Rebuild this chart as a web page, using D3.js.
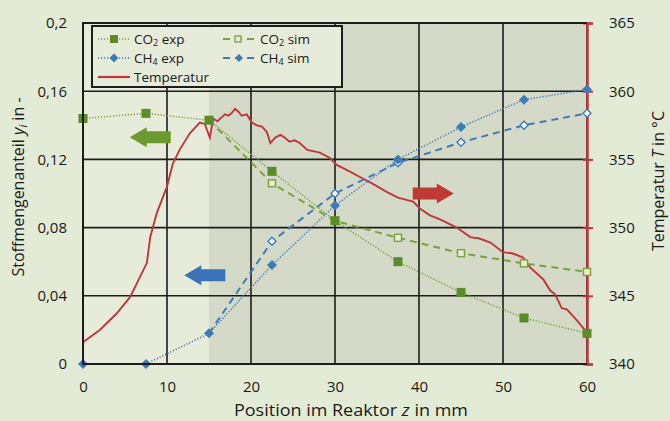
<!DOCTYPE html>
<html lang="de">
<head>
<meta charset="UTF-8"/>
<title>Stoffmengenanteil und Temperatur im Reaktor</title>
<script src="https://d3js.org/d3.v7.min.js"></script>
<style>
	body { margin: 0; background: #e3ead5; }
	svg text { font-family: "Open Sans", Lato, sans-serif; fill: #1a1a1a; }
</style>
</head>
<body>
<script>

var w = 670;
var h = 421;
var margin = {left: 83, right: 83, top: 23, bottom: 57};

// positions along the reactor (mm)
var zPos = [0, 7.5, 15, 22.5, 30, 37.5, 45, 52.5, 60];
var co2Exp = [0.144, 0.147, 0.143, 0.113, 0.084, 0.060, 0.042, 0.027, 0.018];
var ch4Exp = [0, 0, 0.018, 0.058, 0.093, 0.120, 0.139, 0.155, 0.161];

var zSim = [15, 22.5, 30, 37.5, 45, 52.5, 60];
var co2Sim = [0.143, 0.106, 0.084, 0.074, 0.065, 0.059, 0.054];
var ch4Sim = [0.018, 0.072, 0.100, 0.118, 0.130, 0.140, 0.147];

// temperature profile
var tZ = [0, 2.0, 4.0, 5.6, 6.8, 7.6, 8.0, 8.8, 10.0, 10.7, 11.5, 12.7, 13.9, 14.5, 15.1, 15.5, 16.0,
	16.9, 17.3, 17.7, 18.1, 18.5, 18.9, 19.5, 20.1, 20.7, 21.3, 21.9, 22.3, 22.9, 23.5, 24.0, 24.6,
	25.2, 25.8, 26.7, 28.2, 29.4, 30.2, 31.5, 33.3, 34.5, 36.2, 37.5, 39.3, 40.1, 41.3, 42.5, 44.5,
	46.1, 47.2, 48.5, 50.0, 51.2, 52.4, 53.2, 54.8, 55.6, 56.2, 57.0, 57.6, 58.8, 60];
var tVal = [341.6, 342.5, 343.7, 344.9, 346.4, 347.4, 349.3, 351.1, 353.0, 354.7, 355.7, 356.9, 357.7, 357.6, 356.6, 358.0, 357.8,
	358.3, 358.2, 358.4, 358.7, 358.5, 358.2, 358.3, 357.7, 357.5, 357.4, 357.0, 356.2, 356.6, 356.8, 356.6, 356.3,
	356.4, 356.2, 355.7, 355.5, 355.1, 354.6, 354.2, 353.6, 353.2, 352.6, 352.2, 351.9, 351.4, 350.9, 350.6, 350.0,
	349.3, 349.2, 348.9, 348.2, 348.1, 347.8, 347.1, 346.2, 345.4, 345.1, 344.1, 344.0, 343.2, 342.3];

var xTicks = [0, 10, 20, 30, 40, 50, 60];
var yTicks = [0, 0.04, 0.08, 0.12, 0.16, 0.2];
var tTicks = [340, 345, 350, 355, 360, 365];

var green = "#5b8c2a";
var greenLine = "#7aa23c";
var blue = "#3d7bbb";
var red = "#c0363a";
var bg = "#e6ecd9";

var xScale = d3.scaleLinear().domain([0, 60]).range([margin.left, w - margin.right]);
var yScale = d3.scaleLinear().domain([0, 0.2]).range([h - margin.bottom, margin.top]);
var tScale = d3.scaleLinear().domain([340, 365]).range([h - margin.bottom, margin.top]);

var svg = d3.select("body").append("svg")
	.attr("width", w)
	.attr("height", h);

svg.append("rect").attr("width", w).attr("height", h).attr("fill", "#e3ead5");

// plot background, shaded zone from 15 mm
svg.append("rect")
	.attr("x", xScale(0)).attr("y", yScale(0.2))
	.attr("width", xScale(15) - xScale(0)).attr("height", yScale(0) - yScale(0.2))
	.attr("fill", bg);
svg.append("rect")
	.attr("x", xScale(15)).attr("y", yScale(0.2))
	.attr("width", xScale(60) - xScale(15)).attr("height", yScale(0) - yScale(0.2))
	.attr("fill", "#d4dac7");

// grid
svg.append("g").selectAll("line").data(xTicks).enter().append("line")
	.attr("x1", d => xScale(d)).attr("x2", d => xScale(d))
	.attr("y1", yScale(0)).attr("y2", yScale(0.2))
	.attr("stroke", "#1c1c1c").attr("stroke-width", 1.6);
svg.append("g").selectAll("line").data(yTicks).enter().append("line")
	.attr("x1", xScale(0)).attr("x2", xScale(60))
	.attr("y1", d => yScale(d)).attr("y2", d => yScale(d))
	.attr("stroke", "#1c1c1c").attr("stroke-width", 1.6);

// axes
var xAxis = d3.axisBottom(xScale).tickValues(xTicks).tickSize(0).tickPadding(17);
var gx = svg.append("g").attr("transform", "translate(0," + yScale(0) + ")").call(xAxis);
gx.select(".domain").remove();

var yAxis = d3.axisLeft(yScale).tickValues(yTicks).tickSize(0).tickPadding(16)
	.tickFormat(d => String(d).replace(".", ","));
var gy = svg.append("g").attr("transform", "translate(" + xScale(0) + ",0)").call(yAxis);
gy.select(".domain").remove();

var tAxis = d3.axisRight(tScale).tickValues(tTicks).tickSize(6).tickPadding(16);
var gt = svg.append("g").attr("transform", "translate(" + xScale(60) + ",0)").call(tAxis);
gt.select(".domain").attr("stroke", red).attr("stroke-width", 2.5);
gt.selectAll(".tick line").attr("stroke", red).attr("stroke-width", 2).attr("x1", -4);

svg.selectAll(".tick text").style("font-size", "15px").attr("fill", "#1a1a1a");

// series
var lineGen = d3.line().x(d => xScale(d[0])).y(d => yScale(d[1]));

function pairs(xs, ys) { return xs.map((x, i) => [x, ys[i]]); }

svg.append("path").datum(pairs(tZ, tVal))
	.attr("d", d3.line().x(d => xScale(d[0])).y(d => tScale(d[1])))
	.attr("fill", "none").attr("stroke", red).attr("stroke-width", 1.9);

svg.append("path").datum(pairs(zSim, co2Sim)).attr("d", lineGen)
	.attr("fill", "none").attr("stroke", greenLine).attr("stroke-width", 2).attr("stroke-dasharray", "7,5");
svg.append("path").datum(pairs(zSim, ch4Sim)).attr("d", lineGen)
	.attr("fill", "none").attr("stroke", blue).attr("stroke-width", 2).attr("stroke-dasharray", "7,5");
svg.append("path").datum(pairs(zPos, co2Exp)).attr("d", lineGen)
	.attr("fill", "none").attr("stroke", greenLine).attr("stroke-width", 1.6).attr("stroke-dasharray", "1.2,1.8");
svg.append("path").datum(pairs(zPos, ch4Exp)).attr("d", lineGen)
	.attr("fill", "none").attr("stroke", blue).attr("stroke-width", 1.6).attr("stroke-dasharray", "1.2,1.8");

// square diamond marker
function diamondPath(r) {
	return "M0," + (-r) + "L" + r + ",0L0," + r + "L" + (-r) + ",0Z";
}

svg.append("g").selectAll("rect").data(pairs(zSim, co2Sim).slice(1)).enter().append("rect")
	.attr("x", d => xScale(d[0]) - 3.5).attr("y", d => yScale(d[1]) - 3.5)
	.attr("width", 7).attr("height", 7)
	.attr("fill", bg).attr("stroke", greenLine).attr("stroke-width", 1.4);
svg.append("g").selectAll("path").data(pairs(zSim, ch4Sim).slice(1)).enter().append("path")
	.attr("d", diamondPath(4))
	.attr("transform", d => "translate(" + xScale(d[0]) + "," + yScale(d[1]) + ")")
	.attr("fill", "#ffffff").attr("stroke", blue).attr("stroke-width", 1.4);
svg.append("g").selectAll("rect").data(pairs(zPos, co2Exp)).enter().append("rect")
	.attr("x", d => xScale(d[0]) - 4.5).attr("y", d => yScale(d[1]) - 4.5)
	.attr("width", 9).attr("height", 9).attr("fill", green);
svg.append("g").selectAll("path").data(pairs(zPos, ch4Exp)).enter().append("path")
	.attr("d", diamondPath(5))
	.attr("transform", d => "translate(" + xScale(d[0]) + "," + yScale(d[1]) + ")")
	.attr("fill", blue);

// plot frame (top/left/bottom black)
svg.append("path")
	.attr("d", "M" + xScale(60) + "," + yScale(0.2) + "H" + xScale(0) + "V" + yScale(0) + "H" + xScale(60))
	.attr("fill", "none").attr("stroke", "#1c1c1c").attr("stroke-width", 2);

// arrows showing which axis applies
function arrow(cx, cy, dir, color) {
	var len = 41, head = 17, bh = 6, hh = 10;
	var pts = [[-len / 2, 0], [-len / 2 + head, -hh], [-len / 2 + head, -bh], [len / 2, -bh],
		[len / 2, bh], [-len / 2 + head, bh], [-len / 2 + head, hh]];
	svg.append("polygon")
		.attr("points", pts.map(p => p.join(",")).join(" "))
		.attr("transform", "translate(" + cx + "," + cy + ") scale(" + dir + ",1)")
		.attr("fill", color);
}
arrow(xScale(8.0), yScale(0.133), 1, "#6a9a30");
arrow(xScale(14.5), yScale(0.052), 1, "#3a72b8");
arrow(xScale(41.7), yScale(0.100), -1, "#bd3a35");

// legend
var lg = svg.append("g").attr("transform", "translate(92,26)");
lg.append("rect").attr("width", 250).attr("height", 61)
	.attr("fill", bg).attr("stroke", "#1c1c1c").attr("stroke-width", 2);

function legendLine(x, y, color, dash, width) {
	lg.append("line").attr("x1", x).attr("x2", x + 32).attr("y1", y).attr("y2", y)
		.attr("stroke", color).attr("stroke-width", width).attr("stroke-dasharray", dash);
}
legendLine(6, 13, greenLine, "1.2,1.8", 1.6);
lg.append("rect").attr("x", 18).attr("y", 9).attr("width", 8).attr("height", 8).attr("fill", green);
legendLine(6, 32, blue, "1.2,1.8", 1.6);
lg.append("path").attr("d", diamondPath(4.5)).attr("transform", "translate(22,32)").attr("fill", blue);
legendLine(6, 51, red, null, 2.2);

legendLine(131, 13, greenLine, "7,5", 2);
lg.append("rect").attr("x", 143).attr("y", 10).attr("width", 6).attr("height", 6)
	.attr("fill", bg).attr("stroke", greenLine).attr("stroke-width", 1.3);
legendLine(131, 32, blue, "7,5", 2);
lg.append("path").attr("d", diamondPath(4))
	.attr("transform", "translate(147,32)").attr("fill", blue);

function legendText(x, y, base, sub, rest) {
	var t = lg.append("text").attr("x", x).attr("y", y).style("font-size", "13.5px");
	t.append("tspan").text(base);
	if (sub) {
		t.append("tspan").attr("dy", 2).style("font-size", "9px").text(sub);
		t.append("tspan").attr("dy", -2).text(rest);
	}
}
legendText(42, 18, "CO", "2", " exp");
legendText(42, 37, "CH", "4", " exp");
legendText(42, 56, "Temperatur");
legendText(168, 18, "CO", "2", " sim");
legendText(168, 37, "CH", "4", " sim");

// axis titles
var xt = svg.append("text")
	.attr("x", 351).attr("y", 416)
	.attr("textLength", 234).attr("lengthAdjust", "spacingAndGlyphs")
	.style("text-anchor", "middle").style("font-size", "16px");
xt.append("tspan").text("Position im Reaktor ");
xt.append("tspan").style("font-style", "italic").text("z");
xt.append("tspan").text(" in mm");

var yt = svg.append("text")
	.attr("transform", "translate(24,187) rotate(-90)")
	.style("text-anchor", "middle").style("font-size", "16px");
yt.append("tspan").text("Stoffmengenanteil ");
yt.append("tspan").style("font-style", "italic").text("y");
yt.append("tspan").style("font-style", "italic").style("font-size", "11px").attr("dy", 3).text("i");
yt.append("tspan").attr("dy", -3).text(" in -");

var tt = svg.append("text")
	.attr("transform", "translate(664,181) rotate(-90)")
	.style("text-anchor", "middle").style("font-size", "16px");
tt.append("tspan").text("Temperatur ");
tt.append("tspan").style("font-style", "italic").text("T");
tt.append("tspan").text(" in °C");

</script>
</body>
</html>
